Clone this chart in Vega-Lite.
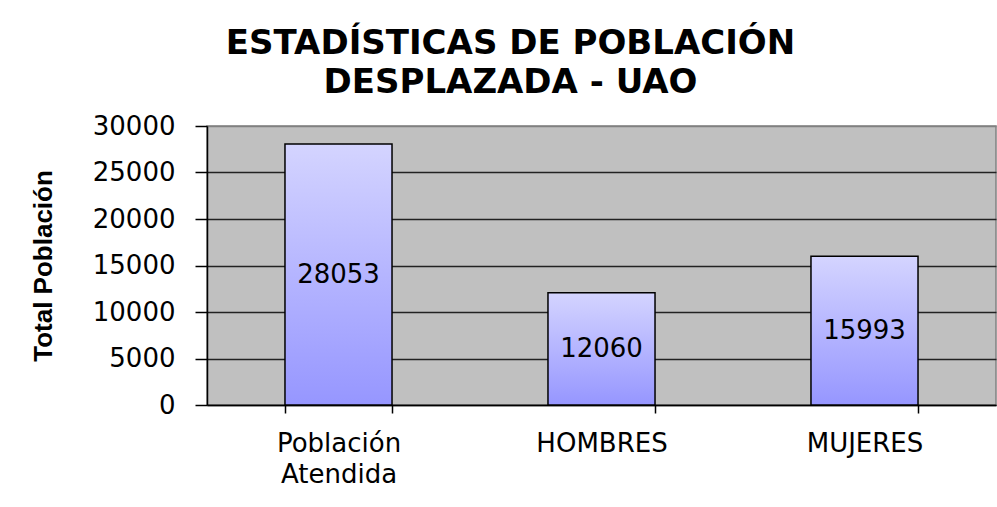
{
  "$schema": "https://vega.github.io/schema/vega-lite/v6.json",
  "autosize": "none",
  "width": 789,
  "height": 279,
  "padding": {"left": 207, "top": 126, "right": 1, "bottom": 102},
  "background": "white",
  "title": {
    "text": ["ESTADÍSTICAS DE POBLACIÓN", "DESPLAZADA - UAO"],
    "font": "DejaVu Sans",
    "fontSize": 34,
    "fontWeight": "bold",
    "color": "black",
    "lineHeight": 39,
    "anchor": "middle",
    "frame": "group",
    "dx": -91,
    "offset": 13
  },
  "data": {
    "values": [
      {"categoria": "Población Atendida", "valor": 28053},
      {"categoria": "HOMBRES", "valor": 12060},
      {"categoria": "MUJERES", "valor": 15993}
    ]
  },
  "transform": [{"calculate": "datum.valor / 2", "as": "mitad"}],
  "encoding": {
    "x": {
      "field": "categoria",
      "type": "nominal",
      "sort": null,
      "scale": {"paddingInner": 0.593, "paddingOuter": 0.2965},
      "axis": {
        "title": null,
        "labelAngle": 0,
        "labelFont": "DejaVu Sans",
        "labelFontSize": 26,
        "labelColor": "black",
        "labelExpr": "datum.label == 'Población Atendida' ? ['Población', 'Atendida'] : datum.label",
        "labelLineHeight": 31,
        "labelPadding": 17,
        "tickBand": "extent",
        "tickSize": 8,
        "tickColor": "black",
        "tickWidth": 1.5,
        "domainColor": "black",
        "domainWidth": 1.5,
        "grid": false
      }
    }
  },
  "layer": [
    {
      "mark": {
        "type": "bar",
        "stroke": "black",
        "strokeWidth": 1.5,
        "color": {
          "gradient": "linear",
          "x1": 0, "y1": 0, "x2": 0, "y2": 1,
          "stops": [
            {"offset": 0, "color": "#d4d4ff"},
            {"offset": 1, "color": "#9696ff"}
          ]
        }
      },
      "encoding": {
        "y": {
          "field": "valor",
          "type": "quantitative",
          "scale": {"domain": [0, 30000], "nice": false},
          "axis": {
            "title": "Total Población",
            "titleFont": "Liberation Sans",
            "titleFontSize": 26,
            "titleFontWeight": "bold",
            "titleColor": "black",
            "titlePadding": 36,
            "values": [0, 5000, 10000, 15000, 20000, 25000, 30000],
            "format": "d",
            "labelFont": "DejaVu Sans",
            "labelFontSize": 26,
            "labelColor": "black",
            "labelPadding": 20,
            "tickSize": 12,
            "tickColor": "black",
            "tickWidth": 1.5,
            "domainColor": "black",
            "domainWidth": 1.5,
            "grid": true,
            "gridColor": {"condition": {"test": "datum.value == 30000", "value": "#808080"}, "value": "#222222"},
            "gridWidth": 1.5
          }
        }
      }
    },
    {
      "mark": {
        "type": "text",
        "font": "DejaVu Sans",
        "fontSize": 26,
        "color": "black",
        "baseline": "middle",
        "align": "center"
      },
      "encoding": {
        "y": {"field": "mitad", "type": "quantitative"},
        "text": {"field": "valor", "type": "quantitative", "format": "d"}
      }
    }
  ],
  "config": {
    "view": {"fill": "#c0c0c0", "stroke": "#808080", "strokeWidth": 1.5}
  }
}
